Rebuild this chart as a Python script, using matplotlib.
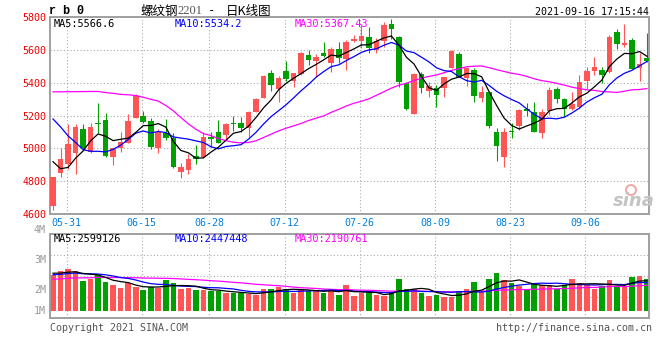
import numpy as np
import pandas as pd
import matplotlib
matplotlib.use('Agg')
import matplotlib.pyplot as plt
from matplotlib.patches import Ellipse

plt.rcParams['font.family'] = ['DejaVu Sans Mono', 'Noto Sans CJK SC']

# trading days in the window (06-14 was the Dragon Boat holiday)
dates = [d.strftime('%m-%d') for d in pd.bdate_range('2021-05-27', '2021-09-16')
         if d.strftime('%m-%d') != '06-14']

opens = [4646, 4849, 4906, 4971, 5119, 4981, 5153, 5174, 4950, 5001,
         5036, 5188, 5198, 5168, 5005, 5093, 5066, 4859, 4869, 4954,
         4946, 5068, 5099, 5082, 5157, 5153, 5123, 5224, 5310, 5462,
         5363, 5472, 5413, 5452, 5570, 5535, 5584, 5523, 5606, 5543,
         5657, 5657, 5677, 5600, 5655, 5758, 5681, 5397, 5210, 5452,
         5350, 5367, 5367, 5492, 5575, 5432, 5478, 5306, 5342, 5099,
         4950, 5107, 5139, 5239, 5220, 5093, 5229, 5362, 5302, 5241,
         5255, 5413, 5474, 5478, 5468, 5708, 5630, 5661, 5488, 5549]
highs = [4823, 5001, 5149, 5149, 5149, 5157, 5277, 5216, 5005, 5103,
         5208, 5332, 5229, 5184, 5117, 5180, 5093, 4914, 4965, 5021,
         5103, 5103, 5174, 5153, 5198, 5190, 5229, 5310, 5448, 5478,
         5442, 5535, 5462, 5590, 5600, 5574, 5651, 5620, 5651, 5661,
         5691, 5762, 5742, 5675, 5773, 5789, 5687, 5407, 5458, 5464,
         5407, 5387, 5438, 5600, 5590, 5498, 5488, 5381, 5346, 5123,
         5123, 5156, 5241, 5275, 5281, 5241, 5377, 5377, 5306, 5344,
         5448, 5498, 5555, 5498, 5691, 5728, 5758, 5671, 5580, 5704]
lows = [4626, 4823, 4875, 4847, 4991, 4971, 5093, 4950, 4900, 4981,
        5032, 5184, 5153, 4995, 4971, 5052, 4879, 4818, 4843, 4908,
        4940, 5007, 5032, 5052, 5109, 5099, 5072, 5220, 5306, 5350,
        5281, 5413, 5377, 5448, 5509, 5438, 5559, 5468, 5519, 5478,
        5647, 5610, 5580, 5580, 5620, 5667, 5373, 5235, 5210, 5336,
        5316, 5255, 5316, 5488, 5434, 5383, 5285, 5285, 5123, 4926,
        4889, 5062, 5113, 5200, 5099, 5066, 5204, 5275, 5194, 5235,
        5249, 5362, 5448, 5397, 5458, 5604, 5620, 5482, 5413, 5529]
closes = [4823, 4936, 5028, 5133, 5001, 5133, 5147, 4956, 5001, 5042,
          5168, 5320, 5164, 5007, 5099, 5062, 4885, 4885, 4936, 4934,
          5072, 5060, 5036, 5149, 5147, 5123, 5224, 5302, 5442, 5387,
          5432, 5423, 5458, 5584, 5539, 5559, 5563, 5604, 5549, 5651,
          5667, 5685, 5610, 5655, 5752, 5728, 5407, 5239, 5452, 5371,
          5381, 5326, 5438, 5596, 5438, 5488, 5322, 5342, 5139, 5017,
          5103, 5099, 5235, 5231, 5103, 5220, 5356, 5302, 5241, 5269,
          5403, 5472, 5494, 5448, 5681, 5635, 5641, 5484, 5515, 5535]
# volume in millions
volumes = [3.16, 3.45, 3.62, 3.45, 2.58, 2.81, 3.16, 2.52, 2.23, 2.00,
           2.38, 2.09, 1.80, 2.09, 2.00, 2.67, 2.38, 1.88, 2.00, 1.80,
           1.80, 1.71, 1.71, 1.57, 1.51, 1.51, 1.47, 1.42, 1.94, 1.88,
           2.09, 1.88, 1.59, 1.80, 1.71, 1.80, 1.59, 1.80, 1.42, 2.23,
           1.30, 1.51, 1.59, 1.36, 1.30, 1.65, 2.75, 1.88, 1.88, 1.59,
           1.28, 1.36, 1.22, 1.22, 1.71, 1.88, 2.52, 1.65, 2.81, 3.33,
           2.67, 2.46, 2.17, 1.88, 2.38, 2.23, 2.29, 1.88, 2.29, 2.81,
           2.46, 2.29, 1.94, 2.17, 2.67, 2.17, 2.17, 2.90, 3.04, 2.81]

# sessions before the window, only needed to start the moving averages
prev_closes = [4930, 5010, 5120, 4990, 5110, 5150, 5160, 5140, 5240, 5230,
               5460, 5470, 5400, 5420, 5850, 5880, 6100, 6110, 5900, 5890,
               5416, 5578, 5533, 5441, 5233, 5150, 4990, 4850, 4783]
prev_volumes = [2.3, 2.5, 2.2, 2.6, 2.4, 2.3, 2.5, 2.6, 2.2, 2.4,
                2.5, 2.3, 2.4, 2.4, 2.8, 3.0, 2.9, 3.1, 2.8, 2.9,
                3.1, 2.9, 3.0, 3.2, 2.8, 3.4, 3.2, 3.3, 3.3]

tick_dates = ['05-31', '06-15', '06-28', '07-12', '07-26', '08-09', '08-23', '09-06']
price_ticks = [4600, 4800, 5000, 5200, 5400, 5600, 5800]

RED = '#ff5555'
GREEN = '#00a000'
GRID = '#aaaaaa'
W, H = 660, 360


def moving_avg(prev, cur, n):
    s = pd.Series(list(prev) + list(cur))
    return s.rolling(n).mean().to_numpy()[len(prev):]


def fx(x):
    return x / W


def fy(y):
    return 1 - y / H


def style_axes(a):
    for sp in a.spines.values():
        sp.set_color('#a0a0a0')
        sp.set_linewidth(1.4)
    a.tick_params(length=0)
    a.set_axisbelow(True)
    a.grid(True, color=GRID, linestyle=(0, (1, 2)), linewidth=0.8)


fig = plt.figure(figsize=(W / 100, H / 100), dpi=100)
ax = fig.add_axes([fx(50.3), fy(214), fx(649.3) - fx(50.3), fy(17.3) - fy(214)])
axv = fig.add_axes([fx(50.3), fy(318.3), fx(649.3) - fx(50.3), fy(234.4) - fy(318.3)])

x = np.arange(len(closes))
o = np.array(opens)
c = np.array(closes)
colors = np.where(c >= o, RED, GREEN)

# candles
ax.vlines(x, lows, highs, colors=colors, linewidth=0.8, zorder=2)
body_lo = np.minimum(o, c)
body_h = np.maximum(np.abs(c - o), 8)
ax.bar(x, body_h, bottom=body_lo, width=0.74, color=colors, linewidth=0, zorder=3)

ax.plot(x, moving_avg(prev_closes, closes, 30), color='#ff00ff', lw=0.9, zorder=4)
ax.plot(x, moving_avg(prev_closes, closes, 10), color='#0000ff', lw=0.9, zorder=4)
ax.plot(x, moving_avg(prev_closes, closes, 5), color='black', lw=0.9, zorder=4)

tick_pos = [dates.index(d) - 0.2 for d in tick_dates]
ax.set_xlim(-0.36, 79.3)
ax.set_ylim(4600, 5800)
ax.set_xticks(tick_pos)
ax.set_xticklabels(tick_dates, color='#0080e0', fontsize=7.2)
ax.set_yticks(price_ticks)
ax.set_yticklabels([str(p) for p in price_ticks], color='#ee0000', fontsize=7.2)
ax.tick_params(axis='x', pad=3)
ax.tick_params(axis='y', pad=3)
style_axes(ax)

# volume panel
axv.bar(x, volumes, width=0.74, color=colors, linewidth=0, zorder=2)
axv.plot(x, moving_avg(prev_volumes, volumes, 30), color='#ff00ff', lw=0.9, zorder=3)
axv.plot(x, moving_avg(prev_volumes, volumes, 10), color='#0000ff', lw=0.9, zorder=3)
axv.plot(x, moving_avg(prev_volumes, volumes, 5), color='black', lw=0.9, zorder=3)
axv.set_xlim(-0.36, 79.3)
axv.set_ylim(-0.65, 6.65)
axv.set_xticks(tick_pos)
axv.set_xticklabels([])
axv.set_yticks([1.175, 3.0, 4.825])
axv.set_yticklabels([])
style_axes(axv)

# header
fig.text(fx(49), fy(11), 'r b 0', fontsize=8.5, fontweight='bold',
         family='Liberation Mono', va='center', ha='left')
fig.text(fx(140), fy(11), '螺纹钢', fontsize=9, family='Noto Sans CJK SC', va='center')
fig.text(fx(177), fy(11.5), '2201', fontsize=9, family='Liberation Serif',
         color='#555555', va='center')
fig.text(fx(208), fy(11), '-', fontsize=9, va='center')
fig.text(fx(226), fy(11), '日K线图', fontsize=9, family='Noto Sans CJK SC', va='center')
fig.text(fx(649), fy(12), '2021-09-16 17:15:44', fontsize=7.2, ha='right', va='center')

fs = 7.4
fig.text(fx(54), fy(24), 'MA5:5566.6', fontsize=fs, color='black', va='center')
fig.text(fx(175), fy(24), 'MA10:5534.2', fontsize=fs, color='#0000ff', va='center')
fig.text(fx(295), fy(24), 'MA30:5367.43', fontsize=fs, color='#ff00ff', va='center')

fig.text(fx(54), fy(239.5), 'MA5:2599126', fontsize=fs, color='black', va='center')
fig.text(fx(175), fy(239.5), 'MA10:2447448', fontsize=fs, color='#0000ff', va='center')
fig.text(fx(295), fy(239.5), 'MA30:2190761', fontsize=fs, color='#ff00ff', va='center')

for lbl, yy in zip(['4M', '3M', '2M', '1M'], [230, 260, 290, 311]):
    fig.text(fx(46), fy(yy), lbl, fontsize=7.2, color='#999999', ha='right', va='center')

fig.text(fx(50), fy(328), 'Copyright 2021 SINA.COM', fontsize=7.2, color='#555555', va='center')
fig.text(fx(652), fy(328), 'http://finance.sina.com.cn', fontsize=7.2, color='#555555',
         ha='right', va='center')

# watermark
fig.add_artist(Ellipse((fx(631), fy(190)), 10 / W, 10 / H, transform=fig.transFigure,
                       fill=False, edgecolor='#f2a0a0', linewidth=1.3))
fig.text(fx(634), fy(201), 'sina', fontsize=13, fontweight='bold', style='italic',
         family='DejaVu Sans', color='#c4c4c4', ha='center', va='center')

fig.savefig('out.png', dpi=100, facecolor='white')
